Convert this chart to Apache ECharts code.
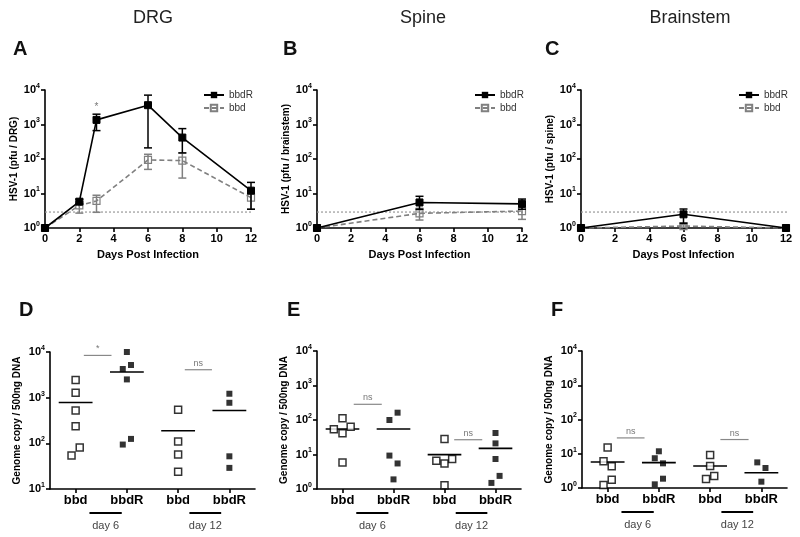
<!DOCTYPE html>
<html><head><meta charset="utf-8">
<script src="https://cdn.jsdelivr.net/npm/echarts@6/dist/echarts.min.js"></script>
<style>html,body{margin:0;padding:0;background:#fff}#c{width:800px;height:537px}</style>
</head><body><div id="c"></div>
<script>
// ---------------- DATA ----------------
const panelTitles = ['DRG', 'Spine', 'Brainstem'];
const panelLetters = ['A', 'B', 'C', 'D', 'E', 'F'];
const topYNames = ['HSV-1 (pfu / DRG)', 'HSV-1 (pfu / brainstem)', 'HSV-1 (pfu / spine)'];
const xAxisName = 'Days Post Infection';
const botYName = 'Genome copy / 500ng DNA';
const groupLabels = ['bbd', 'bbdR', 'bbd', 'bbdR'];
const detectionLimit = 2.9;

// Panel A (DRG)
const daysA = [0, 2, 3, 6, 8, 12];
const A_bbdR = [1, 5.8, 1360, 3630, 418, 12.1];
const A_bbdR_lo = [1, 5.0, 665, 210, 150, 3.5];
const A_bbdR_hi = [1, 6.8, 1990, 7100, 760, 21];
const A_bbd = [1, 4.5, 6.1, 94, 90, 7.6];
const A_bbd_lo = [1, 2.7, 2.85, 50, 28, 3.5];
const A_bbd_hi = [1, 5.7, 8.9, 137, 150, 11];
const A_star = [[3, 3200, '*']];

// Panel B
const daysB = [0, 6, 12];
const B_bbdR = [1, 5.5, 5.0];
const B_bbdR_lo = [1, 3.5, 3.5];
const B_bbdR_hi = [1, 8.3, 6.9];
const B_bbd = [1, 2.66, 3.1];
const B_bbd_lo = [1, 1.7, 1.78];
const B_bbd_hi = [1, 3.7, 4.2];

// Panel C
const daysC = [0, 6, 12];
const C_bbdR = [1, 2.49, 1];
const C_bbdR_lo = [1, 1.37, 1];
const C_bbdR_hi = [1, 3.55, 1];
const C_bbd = [1, 1.14, 1];
const C_bbd_lo = [1, 1.05, 1];
const C_bbd_hi = [1, 1.25, 1];

// Panel D (group index + jitter, value)
const D_bbd6 = [2430, 1282, 525, 236, 81, 54];
const D_bbd6_j = [0, 0, 0, 0, 0.08, -0.08];
const D_bbdR6 = [10000, 5190, 4240, 2510, 125, 94];
const D_bbdR6_j = [0, 0.08, -0.08, 0, 0.08, -0.08];
const D_bbd12 = [545, 110, 57, 24];
const D_bbd12_j = [0, 0, 0, 0];
const D_bbdR12 = [1219, 773, 52, 29];
const D_bbdR12_j = [0, 0, 0, 0];
const D_means = [786, 3640, 188, 525];
const D_sig = [[0.16, 0.7, 8420, '*'], [2.13, 2.66, 4090, 'ns']];

// Panel E
const E_bbd6 = [112, 54, 41, 64, 5.9];
const E_bbd6_j = [0, -0.17, 0, 0.16, 0];
const E_bbdR6 = [163, 100, 9.3, 5.5, 1.9];
const E_bbdR6_j = [0.08, -0.08, -0.08, 0.08, 0];
const E_bbd12 = [28, 6.6, 5.5, 7.4, 1.28];
const E_bbd12_j = [0, -0.16, 0, 0.15, 0];
const E_bbdR12 = [42, 21, 7.4, 2.4, 1.5];
const E_bbdR12_j = [0, 0, 0, 0.08, -0.08];
const E_means = [55, 55, 9.9, 15];
const E_sig = [[0.22, 0.77, 285, 'ns'], [2.19, 2.74, 26.8, 'ns']];

// Panel F
const F_bbd6 = [15.1, 6.0, 4.3, 1.75, 1.22];
const F_bbd6_j = [0, -0.08, 0.08, 0.08, -0.08];
const F_bbdR6 = [11.8, 7.4, 5.25, 1.87, 1.28];
const F_bbdR6_j = [0, -0.08, 0.08, 0.08, -0.08];
const F_bbd12 = [9.2, 4.4, 1.83, 2.24];
const F_bbd12_j = [0, 0, -0.08, 0.08];
const F_bbdR12 = [5.6, 3.84, 1.53];
const F_bbdR12_j = [-0.08, 0.08, 0];
const F_means = [5.75, 5.5, 4.4, 2.8];
const F_sig = [[0.18, 0.72, 29, 'ns'], [2.2, 2.75, 26, 'ns']];

const dayGroups = [[0.27, 0.9, 'day 6'], [2.22, 2.84, 'day 12']];

// ---------------- LAYOUT / STYLE ----------------
const FONT = 'Liberation Sans, Arial, Helvetica, sans-serif';
const GRAY = '#808080';
const topGrids = [
  {left: 45, top: 90, width: 206, height: 138},
  {left: 317, top: 90, width: 205, height: 138},
  {left: 581, top: 90, width: 205, height: 138}
];
const botGrids = [
  {left: 50, top: 352, width: 205, height: 137},
  {left: 317, top: 351, width: 204, height: 138},
  {left: 582, top: 351, width: 205, height: 137}
];
const botMin = [10, 1, 1];
const limitLineEnd = 12.6; // dotted limit line runs slightly past the last tick

const supLabel = {
  fontFamily: FONT, color: '#000', margin: 5,
  formatter: v => '{b|10}{s|' + Math.round(Math.log10(v)) + '}',
  rich: {
    b: {fontSize: 11, fontWeight: 'bold', fontFamily: FONT, color: '#000'},
    s: {fontSize: 7, fontWeight: 'bold', fontFamily: FONT, color: '#000', padding: [0, 0, 8, 0]}
  }
};
const axLine = {show: true, onZero: false, lineStyle: {color: '#000', width: 1.6}};
const axTick = {show: true, inside: false, length: 4, lineStyle: {color: '#000', width: 1.6}};

const grid = [], xAxis = [], yAxis = [], series = [], legend = [], title = [];

// titles
const titleX = [148, 418, 685];
panelTitles.forEach((t, i) => title.push({text: t, left: titleX[i], top: 4, textAlign: 'center',
  textStyle: {fontFamily: FONT, fontSize: 18, fontWeight: 'normal', color: '#222'}}));
const letterPos = [[8, 34], [278, 34], [540, 34], [14, 295], [282, 295], [546, 295]];
panelLetters.forEach((t, i) => title.push({text: t, left: letterPos[i][0], top: letterPos[i][1],
  textStyle: {fontFamily: FONT, fontSize: 20, fontWeight: 'bold', color: '#111'}}));

function errSeries(idx, xs, lo, hi, color) {
  return {
    type: 'custom', xAxisIndex: idx, yAxisIndex: idx, z: 3,
    data: xs.map((x, i) => [x, lo[i], hi[i]]),
    encode: {x: 0, y: [1, 2]},
    renderItem: (params, api) => {
      const x = api.value(0);
      const a = api.coord([x, api.value(1)]), b = api.coord([x, api.value(2)]);
      const w = 4, st = {stroke: color, lineWidth: 1.5};
      if (Math.abs(a[1] - b[1]) < 0.5) return null;
      return {type: 'group', children: [
        {type: 'line', shape: {x1: a[0], y1: a[1], x2: b[0], y2: b[1]}, style: st},
        {type: 'line', shape: {x1: a[0] - w, y1: a[1], x2: a[0] + w, y2: a[1]}, style: st},
        {type: 'line', shape: {x1: b[0] - w, y1: b[1], x2: b[0] + w, y2: b[1]}, style: st}
      ]};
    }
  };
}

const topSets = [
  {days: daysA, r: A_bbdR, rlo: A_bbdR_lo, rhi: A_bbdR_hi, d: A_bbd, dlo: A_bbd_lo, dhi: A_bbd_hi},
  {days: daysB, r: B_bbdR, rlo: B_bbdR_lo, rhi: B_bbdR_hi, d: B_bbd, dlo: B_bbd_lo, dhi: B_bbd_hi},
  {days: daysC, r: C_bbdR, rlo: C_bbdR_lo, rhi: C_bbdR_hi, d: C_bbd, dlo: C_bbd_lo, dhi: C_bbd_hi}
];

topSets.forEach((s, i) => {
  grid.push(topGrids[i]);
  xAxis.push({gridIndex: i, type: 'value', min: 0, max: 12, interval: 2,
    name: xAxisName, nameLocation: 'middle', nameGap: 21,
    nameTextStyle: {fontFamily: FONT, fontSize: 11, fontWeight: 'bold', color: '#000'},
    axisLine: axLine, axisTick: axTick, splitLine: {show: false},
    axisLabel: {fontFamily: FONT, fontSize: 11, fontWeight: 'bold', color: '#000', margin: 5}});
  yAxis.push({gridIndex: i, type: 'log', logBase: 10, min: 1, max: 10000,
    name: topYNames[i], nameLocation: 'middle', nameGap: 26,
    nameTextStyle: {fontFamily: FONT, fontSize: 10, fontWeight: 'bold', color: '#000'},
    axisLine: axLine, axisTick: axTick, splitLine: {show: false}, minorTick: {show: false},
    axisLabel: supLabel});
  // detection limit line
  series.push({
    type: 'line', xAxisIndex: i, yAxisIndex: i, z: 1, silent: true, clip: false,
    data: [[0, detectionLimit], [limitLineEnd, detectionLimit]], symbol: 'none',
    lineStyle: {color: '#999', type: [2, 2], width: 1.2}
  });
  series.push({
    name: 'bbd', type: 'line', xAxisIndex: i, yAxisIndex: i, z: 2,
    data: s.days.map((x, k) => [x, s.d[k]]),
    symbol: 'rect', symbolSize: 7, showAllSymbol: true,
    lineStyle: {color: GRAY, width: 1.6, type: [5, 3]},
    itemStyle: {color: 'rgba(255,255,255,0)', borderColor: GRAY, borderWidth: 1.2}
  });
  series.push(errSeries(i, s.days, s.dlo, s.dhi, GRAY));
  series.push(errSeries(i, s.days, s.rlo, s.rhi, '#000'));
  series.push({
    name: 'bbdR', type: 'line', xAxisIndex: i, yAxisIndex: i, z: 4,
    data: s.days.map((x, k) => [x, s.r[k]]),
    symbol: 'rect', symbolSize: 7,
    lineStyle: {color: '#000', width: 1.6},
    itemStyle: {color: '#000', borderColor: '#000'}
  });
  const lx = topGrids[i].left + topGrids[i].width - 48;
  legend.push({data: ['bbdR'], left: lx, top: 90, itemWidth: 20, itemHeight: 8, selectedMode: false,
    textStyle: {fontFamily: FONT, fontSize: 10, color: '#333', lineHeight: 10}, padding: 0, itemGap: 0});
  legend.push({data: ['bbd'], left: lx, top: 103, itemWidth: 20, itemHeight: 8, selectedMode: false,
    textStyle: {fontFamily: FONT, fontSize: 10, color: '#333', lineHeight: 10}, padding: 0, itemGap: 0});
});

// star annotation panel A
series.push({
  type: 'custom', xAxisIndex: 0, yAxisIndex: 0, z: 5,
  data: A_star.map(a => [a[0], a[1]]),
  renderItem: (params, api) => {
    const p = api.coord([api.value(0), api.value(1)]);
    return {type: 'text', style: {x: p[0], y: p[1], text: A_star[params.dataIndex][2],
      fill: '#777', font: '10px ' + FONT, textAlign: 'center', textVerticalAlign: 'middle'}};
  }
});

const botSets = [
  {g: [[D_bbd6, D_bbd6_j], [D_bbdR6, D_bbdR6_j], [D_bbd12, D_bbd12_j], [D_bbdR12, D_bbdR12_j]], means: D_means, sig: D_sig},
  {g: [[E_bbd6, E_bbd6_j], [E_bbdR6, E_bbdR6_j], [E_bbd12, E_bbd12_j], [E_bbdR12, E_bbdR12_j]], means: E_means, sig: E_sig},
  {g: [[F_bbd6, F_bbd6_j], [F_bbdR6, F_bbdR6_j], [F_bbd12, F_bbd12_j], [F_bbdR12, F_bbdR12_j]], means: F_means, sig: F_sig}
];

botSets.forEach((s, j) => {
  const i = j + 3;
  grid.push(botGrids[j]);
  xAxis.push({gridIndex: i, type: 'value', min: -0.5, max: 3.5,
    axisLine: axLine, splitLine: {show: false},
    axisTick: Object.assign({}, axTick, {customValues: [0, 1, 2, 3]}),
    axisLabel: {customValues: [0, 1, 2, 3], formatter: v => groupLabels[Math.round(v)],
      fontFamily: FONT, fontSize: 13, fontWeight: 'bold', color: '#000', margin: 5}});
  yAxis.push({gridIndex: i, type: 'log', logBase: 10, min: botMin[j], max: 10000,
    name: botYName, nameLocation: 'middle', nameGap: 28,
    nameTextStyle: {fontFamily: FONT, fontSize: 10, fontWeight: 'bold', color: '#000'},
    axisLine: axLine, axisTick: axTick, splitLine: {show: false}, minorTick: {show: false},
    axisLabel: supLabel});
  s.g.forEach((grp, k) => {
    const filled = k % 2 === 1;
    series.push({
      type: 'scatter', xAxisIndex: i, yAxisIndex: i, z: 4,
      data: grp[0].map((v, n) => [k + grp[1][n], v]),
      symbol: 'rect', symbolSize: filled ? 6 : 7,
      itemStyle: filled ? {color: '#000'} : {color: '#fff', borderColor: '#000', borderWidth: 1.5}
    });
  });
  // mean lines
  series.push({
    type: 'custom', xAxisIndex: i, yAxisIndex: i, z: 3,
    data: s.means.map((m, k) => [k, m]),
    renderItem: (params, api) => {
      const a = api.coord([api.value(0) - 0.33, api.value(1)]);
      const b = api.coord([api.value(0) + 0.33, api.value(1)]);
      return {type: 'line', shape: {x1: a[0], y1: a[1], x2: b[0], y2: b[1]}, style: {stroke: '#000', lineWidth: 1.6}};
    }
  });
  // significance bars
  series.push({
    type: 'custom', xAxisIndex: i, yAxisIndex: i, z: 3,
    data: s.sig.map(d => [d[0], d[2], d[1]]),
    encode: {x: [0, 2], y: 1},
    renderItem: (params, api) => {
      const a = api.coord([api.value(0), api.value(1)]);
      const b = api.coord([api.value(2), api.value(1)]);
      return {type: 'group', children: [
        {type: 'line', shape: {x1: a[0], y1: a[1], x2: b[0], y2: b[1]}, style: {stroke: '#888', lineWidth: 1.2}},
        {type: 'text', style: {x: (a[0] + b[0]) / 2, y: a[1] - 2, text: s.sig[params.dataIndex][3],
          fill: '#777', font: '9px ' + FONT, textAlign: 'center', textVerticalAlign: 'bottom'}}
      ]};
    }
  });
  // day grouping lines below the axis
  series.push({
    type: 'custom', xAxisIndex: i, yAxisIndex: i, z: 3, clip: false,
    data: dayGroups.map(d => [d[0], botMin[j], d[1]]),
    encode: {x: [0, 2], y: 1},
    renderItem: (params, api) => {
      const a = api.coord([api.value(0), api.value(1)]);
      const b = api.coord([api.value(2), api.value(1)]);
      const y = a[1] + 24;
      return {type: 'group', children: [
        {type: 'line', shape: {x1: a[0], y1: y, x2: b[0], y2: y}, style: {stroke: '#000', lineWidth: 2}},
        {type: 'text', style: {x: (a[0] + b[0]) / 2, y: y + 7, text: dayGroups[params.dataIndex][2],
          fill: '#444', font: '11px ' + FONT, textAlign: 'center', textVerticalAlign: 'top'}}
      ]};
    }
  });
});

const chart = echarts.init(document.getElementById('c'), null, {renderer: 'canvas'});
chart.setOption({
  backgroundColor: '#fff', animation: false,
  title, legend, grid, xAxis, yAxis, series
});
</script>
</body></html>
